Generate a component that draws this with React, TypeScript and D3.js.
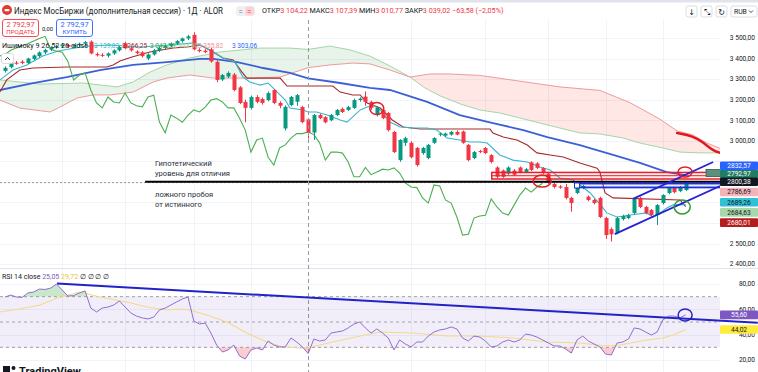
import React, { useEffect, useRef } from 'react'
import * as d3 from 'd3'

// daily candles, bar 53 is the one under the crosshair
const opens = [3340, 3358, 3380, 3385, 3378, 3398, 3412, 3430, 3444, 3455, 3460, 3466, 3458, 3466, 3472, 3482, 3422, 3418, 3414, 3425,
  3440, 3474, 3450, 3434, 3430, 3400, 3420, 3440, 3452, 3462, 3472, 3485, 3498, 3515, 3442, 3438, 3445, 3384, 3298, 3312,
  3322, 3260, 3189, 3160, 3213, 3203, 3198, 3247, 3184, 3060, 3174, 3190, 3164, 3104.22, 3040, 3125, 3115, 3100, 3125, 3155,
  3150, 3160, 3198, 3215, 3189, 3125, 3150, 3135, 3043, 2906, 2990, 2990, 2965, 2940, 2916, 2990, 3030, 3025, 3030, 3043,
  3045, 2980, 2916, 2950, 2965, 2930, 2870, 2855, 2840, 2855, 2870, 2848, 2895, 2890, 2867, 2840, 2790, 2778, 2775, 2722,
  2746, 2770, 2728, 2712, 2722, 2624, 2570, 2551, 2619, 2624, 2648, 2722, 2678, 2663, 2639, 2697, 2746, 2770, 2755, 2760]
const highs = [3362, 3384, 3388, 3392, 3404, 3420, 3435, 3448, 3460, 3466, 3474, 3472, 3470, 3478, 3486, 3488, 3430, 3426, 3430, 3445,
  3462, 3482, 3456, 3440, 3436, 3425, 3446, 3458, 3468, 3478, 3490, 3502, 3515, 3528, 3450, 3446, 3452, 3392, 3325, 3338,
  3330, 3266, 3200, 3220, 3222, 3210, 3240, 3252, 3192, 3172, 3218, 3228, 3170, 3107.39, 3130, 3132, 3120, 3130, 3155, 3162,
  3170, 3205, 3212, 3240, 3195, 3165, 3158, 3140, 3048, 3008, 3020, 2998, 2970, 2970, 2985, 3018, 3040, 3040, 3048, 3050,
  3050, 2985, 2950, 2956, 2970, 2935, 2876, 2860, 2876, 2862, 2875, 2868, 2900, 2896, 2872, 2846, 2796, 2784, 2790, 2728,
  2790, 2786, 2734, 2718, 2728, 2630, 2578, 2630, 2640, 2645, 2722, 2728, 2684, 2668, 2692, 2740, 2775, 2776, 2780, 2800]
const lows = [3332, 3352, 3370, 3372, 3374, 3392, 3405, 3422, 3436, 3448, 3452, 3452, 3450, 3458, 3465, 3420, 3410, 3408, 3405, 3418,
  3434, 3445, 3434, 3420, 3405, 3392, 3414, 3432, 3445, 3455, 3465, 3478, 3490, 3440, 3430, 3426, 3380, 3285, 3290, 3305,
  3240, 3178, 3090, 3152, 3182, 3176, 3192, 3178, 3158, 3050, 3168, 3170, 3085, 3010.77, 3004, 3105, 3085, 3095, 3120, 3135,
  3145, 3155, 3190, 3170, 3150, 3118, 3105, 3045, 2940, 2898, 2975, 2915, 2875, 2932, 2910, 2985, 3022, 3018, 3025, 3026,
  2985, 2900, 2910, 2940, 2935, 2890, 2818, 2820, 2834, 2828, 2842, 2842, 2852, 2862, 2838, 2790, 2768, 2766, 2715, 2655,
  2740, 2764, 2706, 2690, 2624, 2522, 2510, 2545, 2612, 2618, 2642, 2672, 2642, 2632, 2590, 2690, 2740, 2744, 2750, 2755]
const closes = [3355, 3378, 3375, 3378, 3400, 3415, 3430, 3442, 3455, 3460, 3468, 3458, 3466, 3472, 3480, 3425, 3416, 3414, 3425, 3440,
  3456, 3450, 3440, 3426, 3412, 3420, 3440, 3452, 3462, 3472, 3485, 3498, 3508, 3445, 3436, 3431, 3386, 3296, 3320, 3330,
  3247, 3184, 3160, 3213, 3189, 3184, 3232, 3184, 3170, 3165, 3213, 3222, 3091, 3039.02, 3125, 3110, 3090, 3125, 3150, 3140,
  3164, 3198, 3205, 3189, 3160, 3160, 3110, 3052, 2945, 3004, 3013, 2920, 2882, 2965, 2980, 3013, 3035, 3035, 3043, 3030,
  2990, 2906, 2945, 2945, 2940, 2897, 2825, 2825, 2870, 2835, 2848, 2862, 2858, 2868, 2843, 2795, 2775, 2772, 2722, 2697,
  2785, 2780, 2712, 2697, 2629, 2541, 2545, 2624, 2634, 2638, 2717, 2678, 2648, 2639, 2687, 2736, 2770, 2750, 2775, 2792.97]

const rsiValues = [69.7, 71.3, 69.7, 69.5, 72.9, 73.7, 76, 75.7, 76.8, 80, 75.3, 70.5, 70.9, 72.9, 74.5, 61, 57.9, 61, 61.8, 63.4,
  66.6, 61.8, 57.1, 54.7, 53.2, 52.4, 53.9, 59.5, 61, 63.4, 65.8, 68.2, 69.7, 50.8, 48.4, 49.2, 41.3, 31.8, 26.3, 27.9,
  31.8, 23.2, 20.8, 27.9, 29.5, 27.9, 35, 31.8, 30.3, 30.3, 37.4, 34.2, 30.3, 25.05, 36.6, 35, 35.8, 41.3, 42.1, 42.9,
  45.3, 48.4, 50, 45.3, 41.3, 44.5, 41.3, 37.4, 27.9, 35.8, 32.6, 30.3, 34.2, 34.2, 38.9, 42.1, 43.7, 44.5, 46.1, 44.5,
  37.4, 35, 38.9, 38.1, 35, 30.3, 31.1, 34.2, 35.8, 34.2, 35.8, 40.5, 39.7, 38.1, 35.8, 33.4, 31.1, 31.1, 28.7, 25.5,
  35.8, 38.9, 35, 32.6, 30.3, 24.7, 23.9, 33.4, 34.2, 36.6, 45.3, 44.5, 42.1, 39.7, 42.1, 51.6, 54.7, 54.7, 53.2, 55.6]

// [bar, value] vertices
const rsiMa = [[-0.9, 57.9], [2.6, 60.3], [6.1, 63.4], [9.1, 69], [13.1, 73.7], [16.6, 69.7], [21.3, 65.8], [24.8, 61.8],
  [28.3, 59.5], [30.6, 60.3], [32.3, 59.5], [35.3, 55.5], [38.8, 50], [42.3, 41.3], [45.8, 34.2], [48.6, 30.3], [51.6, 29.5],
  [53, 29.72], [57.3, 34.2], [62.1, 38.9], [65.6, 42.1], [71.3, 41.3], [77.3, 38.9], [83, 38.9], [88.8, 37.4], [94.8, 34.2],
  [100.5, 33.4], [105.2, 31.1], [107.5, 31.8], [112.2, 35.8], [115, 37.4], [116.8, 39.7], [119, 44.02]]

const tenkan = [[-0.9, 3296], [1.4, 3344], [3.8, 3369], [6.6, 3412], [9.3, 3437], [12.2, 3451], [14.9, 3461], [18.4, 3466],
  [23.6, 3456], [28.8, 3466], [33.2, 3476], [35, 3455], [38.1, 3403], [40.2, 3383], [41.6, 3310], [42.8, 3286], [44.6, 3271],
  [46, 3281], [47.6, 3237], [49, 3198], [49.8, 3159], [52.1, 3150], [53, 3139.83], [54.5, 3140], [56.3, 3125], [58.6, 3101],
  [59.8, 3091], [60.8, 3116], [62.1, 3150], [63.3, 3164], [64.3, 3174], [65.6, 3150], [67.3, 3091], [69.1, 3067], [71.3, 3062],
  [73.8, 3062], [75.5, 3052], [77.3, 3013], [79.5, 3004], [81.3, 2994], [83, 2994], [84.3, 2989], [86.5, 2931], [88.8, 2906],
  [91.3, 2897], [93.5, 2872], [95.3, 2858], [97, 2819], [99.3, 2809], [101, 2775], [102.3, 2746], [104.4, 2678], [105.2, 2649],
  [107, 2629], [109.3, 2639], [112.2, 2649], [113.3, 2629], [114.5, 2649], [115.7, 2673], [116.8, 2688], [119, 2689.26]]
const kijun = [[-0.9, 3237], [0.3, 3296], [2.6, 3344], [4.9, 3354], [10.8, 3359], [17.8, 3359], [18.9, 3369], [20.1, 3388],
  [22.2, 3408], [25.3, 3432], [29.4, 3451], [31.8, 3456], [34.1, 3466], [36.4, 3432], [38.1, 3403], [39.9, 3393], [41.4, 3335],
  [42.3, 3305], [48.1, 3305], [49.3, 3266.25], [57.3, 3266.25], [58.6, 3237], [60.8, 3223], [62.1, 3223], [63.3, 3184],
  [65.6, 3159], [67.7, 3101], [69.6, 3067], [72.6, 3057], [84.8, 3057], [85.3, 3038], [87.1, 3018], [89.5, 3004], [91.3, 2979],
  [93, 2941], [95.3, 2931], [97.6, 2921], [100.5, 2892], [103.5, 2867], [104, 2848], [104.9, 2746], [106.3, 2722], [118, 2712],
  [119, 2680.01]]
const blueLine = [[-0.9, 3247], [4.9, 3281], [10.8, 3310], [16.6, 3344], [22.4, 3369], [28.3, 3383], [34.1, 3398], [36.4, 3398],
  [40.6, 3383], [45.1, 3354], [49.8, 3330], [53, 3303.06], [58.6, 3281], [63.8, 3257], [67.3, 3247], [73.8, 3189], [79.5, 3125],
  [85.3, 3086], [90.6, 3052], [94.8, 3018], [100.5, 2979], [106.3, 2931], [111, 2892], [115.7, 2848], [119, 2832.57]]
const spanA = [[-0.9, 3296], [6.1, 3276], [13.6, 3281], [19.6, 3262], [22.4, 3286], [25.4, 3335], [28.3, 3369], [32.3, 3403],
  [37.6, 3432], [44.6, 3451], [49.8, 3451], [53, 3444.4], [56.8, 3461], [60.3, 3442], [63.8, 3412], [67.3, 3364], [70.8, 3310],
  [73.4, 3257], [76.1, 3218], [79.6, 3179], [83, 3150], [86.5, 3135], [90, 3111], [93.5, 3086], [97, 3062], [100.5, 3038],
  [104, 3033], [108, 3014], [111, 2989], [115, 2965], [118, 2945], [121.5, 2941], [125.3, 2941]]
const spanB = [[-0.9, 3198], [2.6, 3159], [7.9, 3140], [9.6, 3164], [12.6, 3208], [15.4, 3223], [18.4, 3223], [22.4, 3237],
  [25.9, 3286], [28.3, 3305], [32.3, 3320], [36.4, 3305], [42.8, 3305], [48.1, 3310], [53, 3355.82], [56.8, 3369], [60.8, 3378],
  [63.8, 3374], [67.3, 3344], [70.8, 3310], [74.3, 3325], [77.8, 3325], [83, 3318], [90, 3290], [97, 3262], [104, 3245],
  [109.3, 3185], [114.5, 3105], [117.5, 3048], [120.3, 3028], [122.7, 2989], [125.3, 2960]]
const cloudTwist = 70.8

const priceTicks = [2400, 2500, 2600, 2700, 2800, 2900, 3000, 3100, 3200, 3300, 3400, 3500]
const rsiTicks = [20, 40, 60, 80]
const gridBars = [10, 21, 33, 43, 71, 84, 95, 105, 115]

const crossBar = 53
const crossPrice = 2800.38
const lastValues = [2832.57, 2792.97, 2786.69, 2689.26, 2684.63, 2680.01]
const lastColors = ['#2962ff', '#1f7d63', '#f3b3b8', '#2fc1d6', '#a8d8aa', '#b71c1c']
const lastText = ['#fff', '#fff', '#131722', '#131722', '#131722', '#fff']
const rsiLast = 55.6
const rsiMaLast = 44.02

const ohlcNames = ['ОТКР', 'МАКС', 'МИН', 'ЗАКР']
const ohlcValues = ['3 104,22', '3 107,39', '3 010,77', '3 039,02']
const legendValues = ['3 139,83', '3 266,25', '3 042,56', '3 444,40', '3 355,82', '3 303,06']
const legendColors = ['#38b6cc', '#a52a2a', '#43a047', '#9ccf9e', '#ef8f8f', '#2962ff']
const noteTop = ['Гипотетический', 'уровень для отличия']
const noteBottom = ['ложного пробоя', 'от истинного']

// hand drawings, in [bar, price]
const redBox = [[85.1, 2846], [125.3, 2814]]
const blueBox = [[100, 2792], [125.3, 2773]]
const channelUp = [[109.8, 2717], [123.8, 2897]]
const channelDown = [[106.6, 2546], [125, 2780]]
const redStroke = [[117.5, 3038], [120.3, 3023], [122, 2994], [123.8, 2950], [125.3, 2940]]
const redRings = [[65, 3157, 7, 6], [93.9, 2804, 9, 6], [118.9, 2848, 7, 5]]
const greenRing = [118.4, 2678, 8, 7]
const rsiTrend = [[9.1, 80.3], [131.6, 49.5]]
const rsiRing = [118.9, 55.5, 7, 6]

const W = 758
const H = 372
const PR = 720
const FONT = 'Roboto, "Open Sans", sans-serif'

function App() {
  const svgRef = useRef(null)

  useEffect(() => {
    const svg = d3.select(svgRef.current)
    svg.selectAll('*').remove()

    const x = d3.scaleLinear().domain([0, 119]).range([5, 5 + 119 * 5.72])
    const y = d3.scaleLinear().domain([2400, 3500]).range([264.1, 38])
    const yR = d3.scaleLinear().domain([20, 80]).range([360, 284])
    const loc = d3.formatLocale({ decimal: ',', thousands: '\u00a0', grouping: [3], currency: ['', ''] })
    const fmt = loc.format(',.2f')
    const fmtTag = loc.format('.2f')

    const defs = svg.append('defs')
    defs.append('clipPath').attr('id', 'mainClip').append('rect')
      .attr('x', 0).attr('y', 20).attr('width', PR).attr('height', 248)
    defs.append('clipPath').attr('id', 'rsiClip').append('rect')
      .attr('x', 0).attr('y', 269).attr('width', PR).attr('height', 103)
    defs.append('clipPath').attr('id', 'obClip').append('rect')
      .attr('x', 0).attr('y', 269).attr('width', PR).attr('height', yR(70) - 269)
    defs.append('clipPath').attr('id', 'osClip').append('rect')
      .attr('x', 0).attr('y', yR(30)).attr('width', PR).attr('height', H - yR(30))

    svg.append('rect').attr('width', W).attr('height', H).attr('fill', '#fff')
    svg.append('rect').attr('width', W).attr('height', 2.5).attr('fill', '#e0e3eb')

    // grid
    const grid = svg.append('g').attr('stroke', '#f0f3fa').attr('stroke-width', 1)
    grid.selectAll('.hg').data(priceTicks).enter().append('line')
      .attr('x1', 0).attr('x2', PR).attr('y1', d => Math.round(y(d)) + 0.5).attr('y2', d => Math.round(y(d)) + 0.5)
    grid.selectAll('.rg').data(rsiTicks).enter().append('line')
      .attr('x1', 0).attr('x2', PR).attr('y1', d => Math.round(yR(d)) + 0.5).attr('y2', d => Math.round(yR(d)) + 0.5)
    grid.selectAll('.vg').data(gridBars).enter().append('line')
      .attr('x1', d => Math.round(x(d)) + 0.5).attr('x2', d => Math.round(x(d)) + 0.5).attr('y1', 20).attr('y2', H)
    svg.append('line').attr('x1', 0).attr('x2', W).attr('y1', 268.5).attr('y2', 268.5).attr('stroke', '#e0e3eb')

    const main = svg.append('g').attr('clip-path', 'url(#mainClip)')
    const line = d3.line().x(d => x(d[0])).y(d => y(d[1]))
    const toPts = arr => arr.map(d => [x(d[0]), y(d[1])])

    // cloud
    const greenPoly = toPts(spanA.filter(d => d[0] <= cloudTwist)).concat(toPts(spanB.filter(d => d[0] <= cloudTwist)).reverse())
    const redPoly = toPts(spanB.filter(d => d[0] >= cloudTwist)).concat(toPts(spanA.filter(d => d[0] >= cloudTwist)).reverse())
    main.append('polygon').attr('points', greenPoly.map(p => p.join(',')).join(' ')).attr('fill', 'rgba(67,160,71,0.12)')
    main.append('polygon').attr('points', redPoly.map(p => p.join(',')).join(' ')).attr('fill', 'rgba(244,67,54,0.13)')
    main.append('path').attr('d', line(spanA)).attr('fill', 'none').attr('stroke', '#a5d6a7').attr('stroke-width', 1)
    main.append('path').attr('d', line(spanB)).attr('fill', 'none').attr('stroke', '#ef9a9a').attr('stroke-width', 1)

    main.append('path').attr('d', line(blueLine)).attr('fill', 'none').attr('stroke', '#3a60d8').attr('stroke-width', 1.8)
    main.append('path').attr('d', line(kijun)).attr('fill', 'none').attr('stroke', '#a52a2a').attr('stroke-width', 1.1)
    main.append('path').attr('d', line(tenkan)).attr('fill', 'none').attr('stroke', '#38b6cc').attr('stroke-width', 1.1)
    const chikou = closes.map((c, i) => [i - 25, c]).filter(d => d[0] >= -1)
    main.append('path').attr('d', line(chikou)).attr('fill', 'none').attr('stroke', '#4caf50').attr('stroke-width', 1.1)

    // candles
    const candles = closes.map((c, i) => ({ i, o: opens[i], h: highs[i], l: lows[i], c }))
    const cg = main.append('g')
    cg.selectAll('.wick').data(candles).enter().append('line')
      .attr('x1', d => Math.round(x(d.i)) + 0.5).attr('x2', d => Math.round(x(d.i)) + 0.5)
      .attr('y1', d => y(d.h)).attr('y2', d => y(d.l))
      .attr('stroke', d => d.c >= d.o ? '#089981' : '#f23645')
    cg.selectAll('.body').data(candles).enter().append('rect')
      .attr('x', d => Math.round(x(d.i)) - 1.5).attr('width', 4)
      .attr('y', d => y(Math.max(d.o, d.c)))
      .attr('height', d => Math.max(1, Math.abs(y(d.o) - y(d.c))))
      .attr('fill', d => d.c >= d.o ? '#089981' : '#f23645')

    // crosshair
    const cx = Math.round(x(crossBar)) + 0.5
    svg.append('line').attr('x1', cx).attr('x2', cx).attr('y1', 20).attr('y2', H)
      .attr('stroke', '#9598a1').attr('stroke-dasharray', '4,3')
    main.append('line').attr('x1', 0).attr('x2', PR).attr('y1', y(crossPrice) + 0.8).attr('y2', y(crossPrice) + 0.8)
      .attr('stroke', '#9598a1').attr('stroke-dasharray', '2,2')

    // hand drawings
    main.append('line').attr('x1', x(24.5)).attr('x2', PR).attr('y1', y(crossPrice)).attr('y2', y(crossPrice))
      .attr('stroke', '#000').attr('stroke-width', 2)
    main.append('rect').attr('x', x(redBox[0][0])).attr('y', y(redBox[0][1]))
      .attr('width', x(redBox[1][0]) - x(redBox[0][0])).attr('height', y(redBox[1][1]) - y(redBox[0][1]))
      .attr('fill', 'rgba(242,54,69,0.08)').attr('stroke', '#e8202a').attr('stroke-width', 1.5)
    main.append('line').attr('x1', x(redBox[0][0])).attr('x2', PR)
      .attr('y1', (y(redBox[0][1]) + y(redBox[1][1])) / 2).attr('y2', (y(redBox[0][1]) + y(redBox[1][1])) / 2)
      .attr('stroke', '#e8202a').attr('stroke-width', 1)
    main.append('rect').attr('x', x(blueBox[0][0])).attr('y', y(blueBox[0][1]))
      .attr('width', x(blueBox[1][0]) - x(blueBox[0][0])).attr('height', y(blueBox[1][1]) - y(blueBox[0][1]))
      .attr('fill', 'rgba(41,98,255,0.1)').attr('stroke', '#1f2fd6').attr('stroke-width', 1.8)
    main.append('rect').attr('x', x(blueBox[0][0]) - 2.5).attr('y', (y(blueBox[0][1]) + y(blueBox[1][1])) / 2 - 2.5)
      .attr('width', 5).attr('height', 5).attr('fill', '#fff').attr('stroke', '#1f2fd6')
    main.append('rect').attr('x', 706).attr('y', 169.5).attr('width', 16).attr('height', 7)
      .attr('fill', '#5c8f7c').attr('stroke', '#2f5f4d').attr('stroke-width', 0.8)
    ;[channelUp, channelDown].forEach(seg => {
      main.append('path').attr('d', line(seg)).attr('fill', 'none').attr('stroke', '#2424d6').attr('stroke-width', 1.8)
    })
    main.append('path').attr('d', d3.line().x(d => x(d[0])).y(d => y(d[1])).curve(d3.curveBasis)(redStroke))
      .attr('fill', 'none').attr('stroke', '#e0191f').attr('stroke-width', 2.4).attr('stroke-linecap', 'round')
    redRings.forEach(r => {
      main.append('ellipse').attr('cx', x(r[0])).attr('cy', y(r[1])).attr('rx', r[2]).attr('ry', r[3])
        .attr('fill', 'none').attr('stroke', '#e31b23').attr('stroke-width', 1.5)
    })
    main.append('ellipse').attr('cx', x(greenRing[0])).attr('cy', y(greenRing[1])).attr('rx', greenRing[2]).attr('ry', greenRing[3])
      .attr('fill', 'none').attr('stroke', '#2f9a2f').attr('stroke-width', 1.5)

    const notes = svg.append('g').attr('font-family', FONT).attr('font-size', 7.6).attr('fill', '#2a2e39')
    noteTop.forEach((t, k) => notes.append('text').attr('x', 155).attr('y', y(crossPrice) - 16 + k * 10).text(t))
    noteBottom.forEach((t, k) => notes.append('text').attr('x', 155).attr('y', y(crossPrice) + 15 + k * 10).text(t))

    // RSI pane
    const rsi = svg.append('g').attr('clip-path', 'url(#rsiClip)')
    rsi.append('rect').attr('x', 0).attr('width', PR).attr('y', yR(70)).attr('height', yR(30) - yR(70))
      .attr('fill', 'rgba(126,87,194,0.1)')
    ;[70, 50, 30].forEach(v => {
      rsi.append('line').attr('x1', 0).attr('x2', PR).attr('y1', yR(v)).attr('y2', yR(v))
        .attr('stroke', '#9598a1').attr('stroke-dasharray', '3,3').attr('stroke-width', 0.9)
    })
    const rsiPts = rsiValues.map((v, i) => [i, v])
    const ob = d3.area().x(d => x(d[0])).y0(yR(70)).y1(d => yR(d[1]))
    const os = d3.area().x(d => x(d[0])).y0(yR(30)).y1(d => yR(d[1]))
    rsi.append('path').attr('d', ob(rsiPts)).attr('fill', 'rgba(76,175,80,0.3)').attr('clip-path', 'url(#obClip)')
    rsi.append('path').attr('d', os(rsiPts)).attr('fill', 'rgba(242,54,69,0.25)').attr('clip-path', 'url(#osClip)')
    const rline = d3.line().x(d => x(d[0])).y(d => yR(d[1]))
    rsi.append('path').attr('d', rline(rsiMa)).attr('fill', 'none').attr('stroke', '#f3d98c').attr('stroke-width', 1.1)
    rsi.append('path').attr('d', rline(rsiPts)).attr('fill', 'none').attr('stroke', '#8f6fd0').attr('stroke-width', 1)
    svg.append('path').attr('d', rline(rsiTrend)).attr('fill', 'none').attr('stroke', '#2222c8').attr('stroke-width', 2)
    svg.append('ellipse').attr('cx', x(rsiRing[0])).attr('cy', yR(rsiRing[1])).attr('rx', rsiRing[2]).attr('ry', rsiRing[3])
      .attr('fill', 'none').attr('stroke', '#2222c8').attr('stroke-width', 1.5)

    // last value labels, stacked around the crosshair label
    const anchorY = y(crossPrice)
    const above = [1, 0]
    const below = [2, 3, 4, 5]
    const tags = []
    above.forEach((k, n) => tags.push({ t: fmtTag(lastValues[k]), yc: anchorY - 8 * (n + 1), bg: lastColors[k], fg: lastText[k] }))
    below.forEach((k, n) => tags.push({ t: fmtTag(lastValues[k]), yc: anchorY + 10.2 * (n + 1), bg: lastColors[k], fg: lastText[k] }))
    tags.push({ t: fmtTag(crossPrice), yc: anchorY, bg: '#131722', fg: '#fff' })
    const rsiTags = [
      { t: fmtTag(rsiLast), yc: yR(rsiLast), bg: '#7e57c2', fg: '#fff' },
      { t: fmtTag(rsiMaLast), yc: yR(rsiMaLast), bg: '#ffeb3b', fg: '#131722' },
    ]

    // axes: tick labels that sit under a tag are hidden, as in the app
    const ax = svg.append('g').attr('font-family', FONT).attr('font-size', 6.6).attr('fill', '#131722')
      .attr('text-anchor', 'end')
    ax.selectAll('.pt').data(priceTicks.filter(d => tags.every(t => Math.abs(t.yc - y(d)) > 7))).enter().append('text')
      .attr('x', 755).attr('y', d => y(d) + 2.3).text(d => fmt(d))
    ax.selectAll('.rt').data(rsiTicks).enter().append('text')
      .attr('x', 755).attr('y', d => yR(d) + 2.3).text(d => loc.format('.2f')(d))

    tags.concat(rsiTags).forEach(tg => {
      svg.append('rect').attr('x', 720).attr('y', tg.yc - 4.3).attr('width', 38).attr('height', 8.6).attr('rx', 1).attr('fill', tg.bg)
      svg.append('text').attr('x', 739).attr('y', tg.yc + 2.3).attr('text-anchor', 'middle')
        .attr('font-family', FONT).attr('font-size', 6.6).attr('fill', tg.fg).text(tg.t)
    })

    // header
    const hd = svg.append('g').attr('font-family', FONT)
    hd.append('circle').attr('cx', 7).attr('cy', 10).attr('r', 5).attr('fill', '#e53935')
    hd.append('rect').attr('x', 4.5).attr('y', 9).attr('width', 5).attr('height', 2.2).attr('rx', 1).attr('fill', '#fff')
    hd.append('text').attr('x', 14).attr('y', 13.5).attr('font-size', 8.4).attr('fill', '#131722')
      .attr('textLength', 209).attr('lengthAdjust', 'spacingAndGlyphs')
      .text('Индекс МосБиржи (дополнительная сессия) · 1Д · ALOR')
    hd.append('rect').attr('x', 236).attr('y', 6).attr('width', 19).attr('height', 10).attr('rx', 3).attr('fill', '#eef0f4')
    hd.append('rect').attr('x', 245).attr('y', 6.5).attr('width', 9).attr('height', 9).attr('rx', 3).attr('fill', '#fbd3d7')
    hd.append('text').attr('x', 238.5).attr('y', 13.6).attr('font-size', 8).attr('fill', '#787b86').text('=')
    hd.append('text').attr('x', 247).attr('y', 13.6).attr('font-size', 8).attr('fill', '#f23645').text('=')
    const ohlc = hd.append('text').attr('x', 262).attr('y', 13.3).attr('font-size', 7.2)
    ohlcNames.forEach((n, k) => {
      ohlc.append('tspan').attr('fill', '#131722').text((k ? ' ' : '') + n)
      ohlc.append('tspan').attr('fill', '#f23645').text(ohlcValues[k])
    })
    ohlc.append('tspan').attr('fill', '#f23645').text(' −63,58 (−2,05%)')

    const btn = (bx, color, label) => {
      hd.append('rect').attr('x', bx).attr('y', 19.5).attr('width', 36).attr('height', 17).attr('rx', 2.5)
        .attr('fill', '#fff').attr('stroke', color).attr('stroke-width', 0.9)
      hd.append('text').attr('x', bx + 18).attr('y', 27.2).attr('text-anchor', 'middle').attr('font-size', 7.4)
        .attr('fill', color).text('2 792,97')
      hd.append('text').attr('x', bx + 18).attr('y', 34.4).attr('text-anchor', 'middle').attr('font-size', 6.2)
        .attr('fill', color).text(label)
    }
    btn(2.5, '#f23645', 'ПРОДАТЬ')
    btn(56.5, '#2962ff', 'КУПИТЬ')
    hd.append('text').attr('x', 47.5).attr('y', 30.5).attr('text-anchor', 'middle').attr('font-size', 5.8)
      .attr('fill', '#131722').text('0,00')

    hd.append('text').attr('x', 2).attr('y', 48.3).attr('font-size', 7.3).attr('fill', '#131722')
      .attr('textLength', 86).attr('lengthAdjust', 'spacingAndGlyphs')
      .text('Ишимоку 9 26 52 26 close')
    const legX = [94, 122, 150, 173, 198, 232]
    legendValues.forEach((v, k) => {
      hd.append('text').attr('x', legX[k]).attr('y', 48.3).attr('font-size', 6.6).attr('fill', legendColors[k]).text(v)
    })
    hd.append('rect').attr('x', 1.5).attr('y', 53.5).attr('width', 12).attr('height', 10).attr('rx', 2)
      .attr('fill', '#fff').attr('stroke', '#d1d4dc').attr('stroke-width', 0.8)
    hd.append('path').attr('d', 'M5,60 L7.5,57.5 L10,60').attr('fill', 'none').attr('stroke', '#131722').attr('stroke-width', 0.9)

    // toolbar top right
    const icons = ['↓', '⤡', '↻']
    icons.forEach((ic, k) => {
      const bx = 686 + k * 15
      hd.append('rect').attr('x', bx).attr('y', 6).attr('width', 11).attr('height', 11).attr('rx', 2)
        .attr('fill', '#fff').attr('stroke', '#d1d4dc').attr('stroke-width', 0.8)
      hd.append('text').attr('x', bx + 5.5).attr('y', 14.5).attr('text-anchor', 'middle').attr('font-size', 8)
        .attr('font-family', 'DejaVu Sans').attr('fill', '#131722').text(ic)
    })
    hd.append('rect').attr('x', 731).attr('y', 6).attr('width', 26).attr('height', 11).attr('rx', 2)
      .attr('fill', '#fff').attr('stroke', '#d1d4dc').attr('stroke-width', 0.8)
    hd.append('text').attr('x', 734).attr('y', 14).attr('font-size', 6.8).attr('fill', '#131722').text('RUB')
    hd.append('path').attr('d', 'M749,10.5 L751,12.5 L753,10.5').attr('fill', 'none').attr('stroke', '#131722').attr('stroke-width', 0.8)

    // RSI legend
    const rl = svg.append('text').attr('x', 2).attr('y', 279).attr('font-family', FONT).attr('font-size', 7)
    rl.append('tspan').attr('fill', '#131722').text('RSI 14 close ')
    rl.append('tspan').attr('fill', '#7e57c2').text('25,05 ')
    rl.append('tspan').attr('fill', '#e9c23a').text('29,72 ')
    rl.append('tspan').attr('fill', '#131722').text(' ∅ ∅ ∅ ∅')

    // logo, cut by the bottom edge
    svg.append('rect').attr('x', 3).attr('y', 366).attr('width', 7).attr('height', 8).attr('fill', '#131722')
    svg.append('circle').attr('cx', 13.5).attr('cy', 368).attr('r', 2).attr('fill', '#131722')
    svg.append('text').attr('x', 19).attr('y', 375).attr('font-family', FONT).attr('font-size', 11)
      .attr('font-weight', 700).attr('fill', '#131722').text('TradingView')
  }, [])

  return (
    <svg ref={svgRef} width={W} height={H} style={{ position: 'absolute', left: 0, top: 0 }} />
  )
}

export default App
